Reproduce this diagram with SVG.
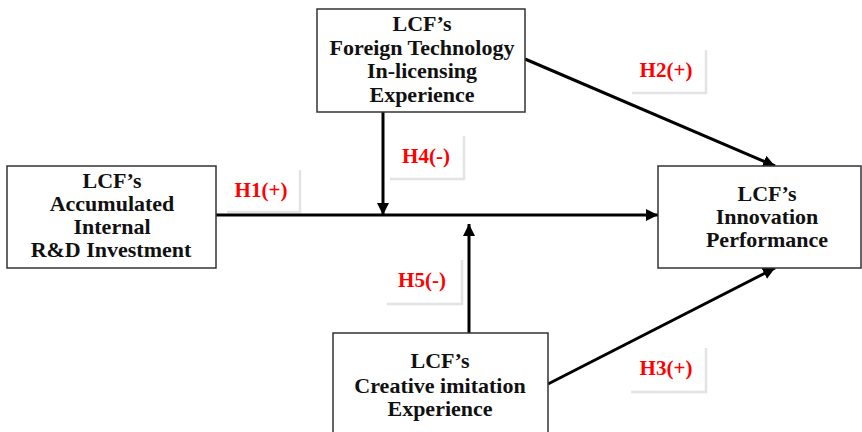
<svg xmlns="http://www.w3.org/2000/svg" width="862" height="432" viewBox="0 0 862 432">
<style>
.box{fill:#fff;stroke:#333;stroke-width:1.5}
.t{font-family:"Liberation Serif","Times New Roman",serif;font-weight:bold;font-size:22px;fill:#111;text-anchor:middle}
.lbl{font-family:"Liberation Serif","Times New Roman",serif;font-weight:bold;font-size:21px;fill:#ff0000;text-anchor:middle}
.sh{fill:none;stroke:#e3e3e3;stroke-width:2.5}
.c{stroke:#000;stroke-width:3;fill:none}
</style>
<defs>
<marker id="ah" viewBox="0 0 10 10" refX="10" refY="5" markerWidth="4" markerHeight="4" markerUnits="strokeWidth" orient="auto">
<path d="M0,0 L10,5 L0,10 z" fill="#000"/>
</marker>
</defs>
<rect width="862" height="432" fill="#fff"/>
<g id="labels">
<g id="lbl-h1"><path class="sh" d="M300,170 V212 H227"/><text class="lbl" x="261" y="197">H1(+)</text></g>
<g id="lbl-h2"><path class="sh" d="M706,50 V93 H632"/><text class="lbl" x="666" y="77">H2(+)</text></g>
<g id="lbl-h3"><path class="sh" d="M706,348 V392 H631"/><text class="lbl" x="666" y="375">H3(+)</text></g>
<g id="lbl-h4"><path class="sh" d="M464,136 V179 H390"/><text class="lbl" x="426" y="163">H4(-)</text></g>
<g id="lbl-h5"><path class="sh" d="M462,260 V304 H387"/><text class="lbl" x="422" y="287">H5(-)</text></g>
</g>
<g id="connectors">
<line class="c" x1="216" y1="215" x2="658" y2="215" marker-end="url(#ah)"/>
<line class="c" x1="383" y1="112" x2="383" y2="215" marker-end="url(#ah)"/>
<line class="c" x1="469" y1="333" x2="469" y2="224" marker-end="url(#ah)"/>
<line class="c" x1="525" y1="59" x2="775" y2="166" marker-end="url(#ah)"/>
<line class="c" x1="548" y1="384" x2="775" y2="268" marker-end="url(#ah)"/>
</g>
<g id="node-rd">
<rect class="box" x="7" y="166" width="209" height="102"/>
<text class="t" x="112" y="188">LCF’s</text>
<text class="t" x="112" y="211">Accumulated</text>
<text class="t" x="112" y="234">Internal</text>
<text class="t" x="111" y="257">R&amp;D Investment</text>
</g>
<g id="node-foreign">
<rect class="box" x="317" y="9" width="208" height="103"/>
<text class="t" x="422" y="31">LCF’s</text>
<text class="t" x="422" y="55">Foreign Technology</text>
<text class="t" x="422" y="78">In-licensing</text>
<text class="t" x="422" y="102">Experience</text>
</g>
<g id="node-innovation">
<rect class="box" x="658" y="166" width="203" height="102"/>
<text class="t" x="767" y="201">LCF’s</text>
<text class="t" x="767" y="224">Innovation</text>
<text class="t" x="767" y="247">Performance</text>
</g>
<g id="node-imitation">
<rect class="box" x="333" y="333" width="215" height="105"/>
<text class="t" x="440" y="368">LCF’s</text>
<text class="t" x="440" y="393">Creative imitation</text>
<text class="t" x="440" y="416">Experience</text>
</g>
</svg>
